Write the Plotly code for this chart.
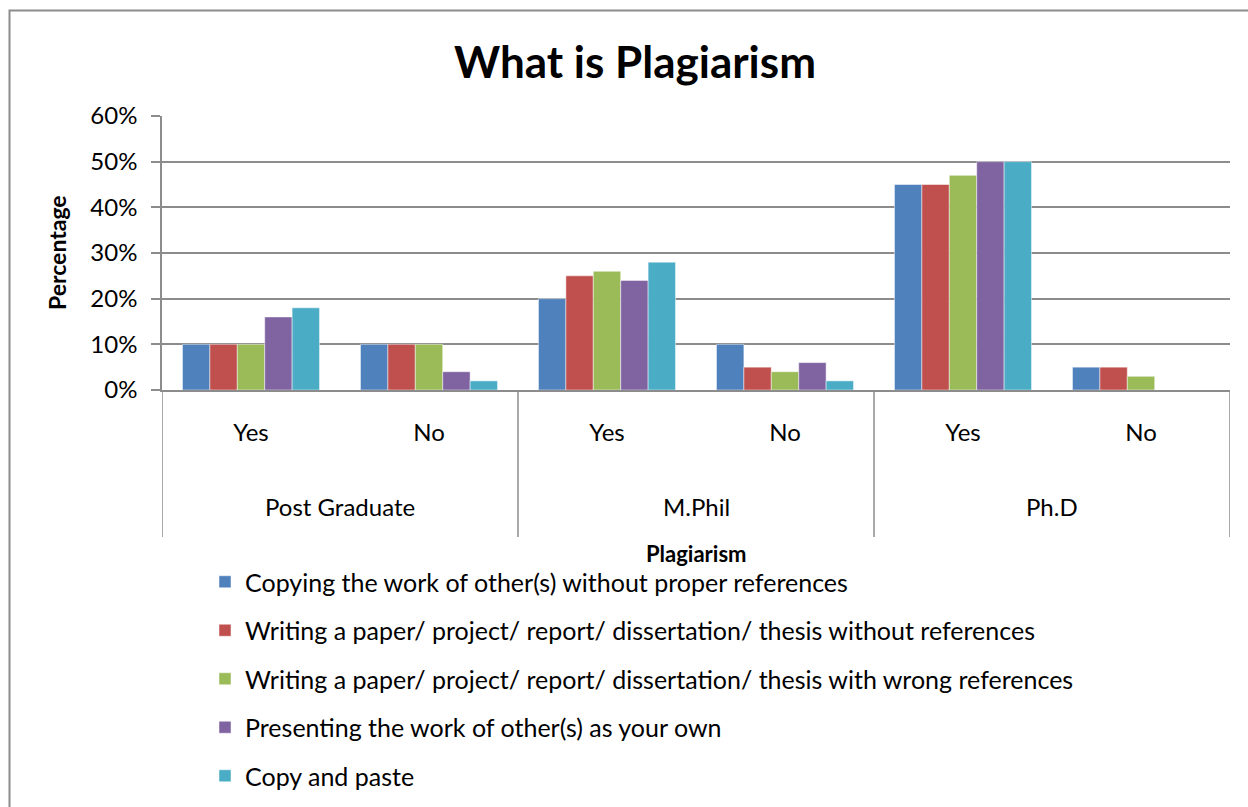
import plotly.graph_objects as go

groups = ["Post Graduate", "M.Phil", "Ph.D"]
answers = ["Yes", "No"]
series_names = [
    "Copying the work of other(s) without proper references",
    "Writing a paper/ project/ report/ dissertation/ thesis without references",
    "Writing a paper/ project/ report/ dissertation/ thesis with wrong references",
    "Presenting the work of other(s) as your own",
    "Copy and paste",
]
# values per category: PG-Yes, PG-No, MPhil-Yes, MPhil-No, PhD-Yes, PhD-No
copying = [10, 10, 20, 10, 45, 5]
no_refs = [10, 10, 25, 5, 45, 5]
wrong_refs = [10, 10, 26, 4, 47, 3]
presenting = [16, 4, 24, 6, 50, 0]
copy_paste = [18, 2, 28, 2, 50, 0]
series_values = [copying, no_refs, wrong_refs, presenting, copy_paste]
colors = ["#4F81BD", "#C0504D", "#9BBB59", "#8064A2", "#4BACC6"]
y_ticks = [0, 10, 20, 30, 40, 50, 60]
y_tick_text = [f"{v}%" for v in y_ticks]

cat_labels = [a for g in groups for a in answers]
xpos = list(range(len(cat_labels)))

W, H = 1248, 807
L, R, T, B = 162, 1230, 116, 390
pw, ph = R - L, B - T

def px(x):
    return (x - L) / pw

def py(y):
    return (B - y) / ph

font = "Lato, 'Open Sans', sans-serif"
grid = "#8c8c8c"

fig = go.Figure()
for name, vals, c in zip(series_names, series_values, colors):
    fig.add_trace(go.Bar(
        x=xpos, y=vals, name=name, legendgroup=name,
        marker=dict(color=c, line=dict(color="rgba(255,255,255,0.6)", width=0.8)),
    ))

shapes = []
# outer chart border
shapes.append(dict(type="rect", xref="paper", yref="paper",
                   x0=px(9.5), x1=px(1262), y0=py(830), y1=py(10.5),
                   line=dict(color="#8c8c8c", width=2), fillcolor="rgba(0,0,0,0)", layer="below"))
# group dividers
n_per = len(answers)
for i in range(len(groups) + 1):
    xv = i * n_per - 0.5
    shapes.append(dict(type="line", xref="x", yref="paper", x0=xv, x1=xv,
                       y0=py(537), y1=0, line=dict(color=grid, width=1.5)))

annotations = []
for i, g in enumerate(groups):
    annotations.append(dict(text=g, xref="x", yref="paper", x=i * n_per + (n_per - 1) / 2,
                            y=py(506), showarrow=False, yanchor="middle",
                            font=dict(family=font, size=24, color="black")))
annotations.append(dict(text="<b>Plagiarism</b>", xref="paper", yref="paper", x=0.5, y=py(553),
                        showarrow=False, yanchor="middle", font=dict(family=font, size=22, color="black")))
annotations.append(dict(text="<b>Percentage</b>", xref="paper", yref="paper", x=px(57), y=0.5,
                        textangle=-90, showarrow=False, xanchor="center", yanchor="middle",
                        font=dict(family=font, size=23, color="black")))

fig.update_layout(
    width=W, height=H,
    margin=dict(l=L, r=W - R, t=T, b=H - B, autoexpand=False),
    paper_bgcolor="white", plot_bgcolor="white",
    barmode="group", bargap=0.23, bargroupgap=0,
    title=dict(text="<b>What is Plagiarism</b>", x=635 / W, xanchor="center",
               y=1 - 63 / H, yanchor="middle", font=dict(family=font, size=44, color="black")),
    font=dict(family=font, size=24, color="black"),
    xaxis=dict(tickvals=xpos, ticktext=cat_labels, range=[-0.5, len(xpos) - 0.5],
               ticks="outside", ticklen=20, tickcolor="rgba(0,0,0,0)",
               showgrid=False, showline=True, linecolor=grid, linewidth=1.5,
               tickfont=dict(family=font, size=24, color="black")),
    yaxis=dict(range=[0, 60], tickvals=y_ticks, ticktext=y_tick_text,
               showgrid=True, gridcolor=grid, gridwidth=1.5,
               ticks="outside", ticklen=9, tickcolor=grid, tickwidth=1.5,
               ticklabelstandoff=9,
               showline=True, linecolor=grid, linewidth=1.5, zeroline=False,
               tickfont=dict(family=font, size=24, color="black")),
    legend=dict(x=px(205), y=py(559), xanchor="left", yanchor="top",
                orientation="v", tracegroupgap=13, traceorder="grouped",
                font=dict(family=font, size=25, color="black"), bgcolor="rgba(0,0,0,0)"),
    shapes=shapes, annotations=annotations,
)

fig.write_html("out.html", config={"displayModeBar": False},
               post_script="document.body.style.margin='0px';")
